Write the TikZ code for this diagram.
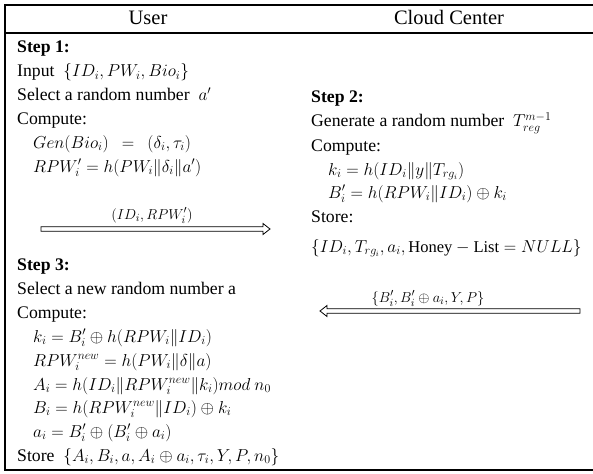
\documentclass[tikz,border=0pt]{standalone}
\usepackage{amsmath}
\usepackage{fontspec}
\setmainfont{Liberation Serif}
\usetikzlibrary{calc}
% formulas are set a little smaller than the running text
\newcommand\mth[1]{{\fontsize{16.5}{20}\selectfont$#1$}}
\begin{document}
\begin{tikzpicture}[x=1pt,y=-1pt,
  txt/.style={anchor=base west, inner sep=0pt, font=\fontsize{17.7}{20}\selectfont},
  head/.style={anchor=base, inner sep=0pt, font=\fontsize{20.5}{24}\selectfont},
  msg/.style={anchor=base, inner sep=0pt, font=\fontsize{15.5}{18}\selectfont},
  rule/.style={line width=1.2pt},
  arrowbox/.style={draw, line width=0.8pt, fill=white, line join=miter}]
\useasboundingbox (0,0) rectangle (593,473);
% table frame
\draw[rule] (593,5) -- (5,5) -- (5,470) -- (593,470);
\draw[rule] (5,33) -- (593,33);
% column headings
\node[head] (hu) at (148,25) {User};
\node[head] (hc) at (449,25) {Cloud Center};
% user side, step 1
\node[txt] (s1) at (17,53) {\textbf{Step 1:}};
\node[txt] (s1a) at (17,77) {Input \ \mth{\{ID_i, PW_i, Bio_i\}}};
\node[txt] (s1b) at (17,101) {Select a random number \ \mth{a'}};
\node[txt] (s1c) at (17,125) {Compute:};
\node[txt] (s1d) at (33,148) {\mth{Gen(Bio_i) \ \ = \ \ (\delta_i,\tau_i)}};
\node[txt] (s1e) at (33,172) {\mth{RPW_i' = h(PW_i\Vert\delta_i\Vert a')}};
% first message, user to cloud
\coordinate (m1s) at (41,229);
\coordinate (m1e) at (270,229);
\path[arrowbox] ($(m1s)+(0,-2.2)$) -- ($(m1e)+(-7,-2.2)$) -- ($(m1e)+(-7,-5.5)$)
  -- (m1e) -- ($(m1e)+(-7,5.5)$) -- ($(m1e)+(-7,2.2)$) -- ($(m1s)+(0,2.2)$) -- cycle;
\node[msg] (m1) at (152,219) {$(ID_i, RPW_i')$};
% cloud side, step 2
\node[txt] (s2) at (311,103) {\textbf{Step 2:}};
\node[txt] (s2a) at (311,127) {Generate a random number \ \mth{T_{reg}^{m-1}}};
\node[txt] (s2b) at (311,151) {Compute:};
\node[txt] (s2c) at (328,175) {\mth{k_i = h(ID_i\Vert y\Vert T_{rg_i})}};
\node[txt] (s2d) at (328,198) {\mth{B_i' = h(RPW_i\Vert ID_i) \oplus k_i}};
\node[txt] (s2e) at (311,222) {Store:};
\node[txt] (s2f) at (311,252) {\mth{\{ID_i, T_{rg_i}, a_i, \text{Honey} - \text{List} = NULL\}}};
% second message, cloud to user
\coordinate (m2s) at (580,311);
\coordinate (m2e) at (320,311);
\path[arrowbox] ($(m2s)+(0,-2.2)$) -- ($(m2e)+(7,-2.2)$) -- ($(m2e)+(7,-5.5)$)
  -- (m2e) -- ($(m2e)+(7,5.5)$) -- ($(m2e)+(7,2.2)$) -- ($(m2s)+(0,2.2)$) -- cycle;
\node[msg] (m2) at (428,302) {$\{B_i', B_i' \oplus a_i, Y, P\}$};
% user side, step 3
\node[txt] (s3) at (17,270) {\textbf{Step 3:}};
\node[txt] (s3a) at (17,294) {Select a new random number a};
\node[txt] (s3b) at (17,318) {Compute:};
\node[txt] (s3c) at (33,342) {\mth{k_i = B_i' \oplus h(RPW_i\Vert ID_i)}};
\node[txt] (s3d) at (33,366) {\mth{RPW_i^{new} = h(PW_i\Vert\delta\Vert a)}};
\node[txt] (s3e) at (33,390) {\mth{A_i = h(ID_i\Vert RPW_i^{new}\Vert k_i) mod\ n_0}};
\node[txt] (s3f) at (33,413) {\mth{B_i = h(RPW_i^{new}\Vert ID_i) \oplus k_i}};
\node[txt] (s3g) at (33,437) {\mth{a_i = B_i' \oplus (B_i' \oplus a_i)}};
\node[txt] (s3h) at (17,461) {Store \ \mth{\{A_i, B_i, a, A_i \oplus a_i, \tau_i, Y, P, n_0\}}};
\end{tikzpicture}
\end{document}
